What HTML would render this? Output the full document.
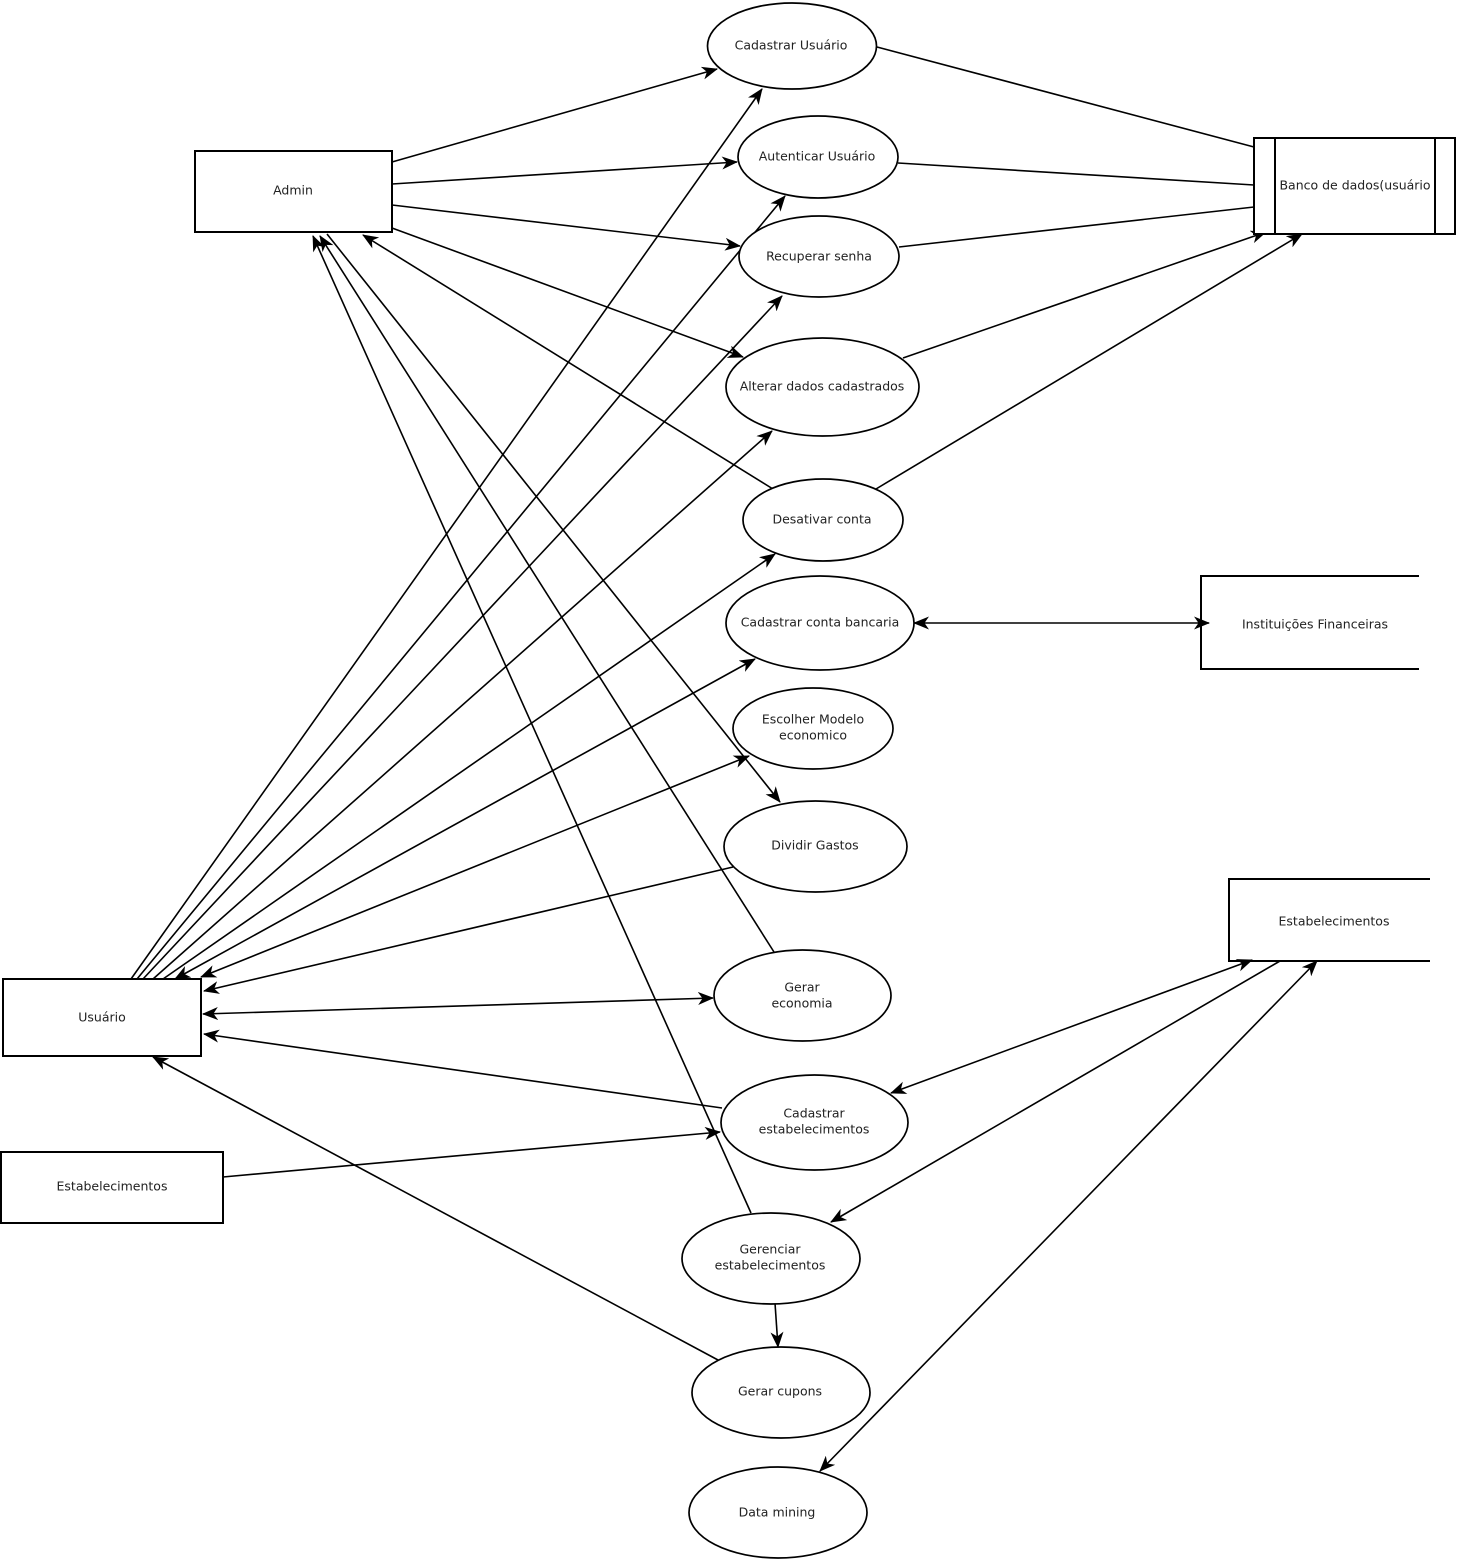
<!DOCTYPE html>
<html>
<head>
<meta charset="utf-8">
<style>
  html,body{margin:0;padding:0;background:#fff;}
  svg{display:block;}
  text{font-family:"DejaVu Sans","Liberation Sans",sans-serif;font-size:12.5px;fill:#222;}
</style>
</head>
<body>
<svg width="1459" height="1561" viewBox="0 0 1459 1561" xmlns="http://www.w3.org/2000/svg">
  <defs>
    <marker id="a" markerUnits="userSpaceOnUse" markerWidth="16" markerHeight="13" refX="15" refY="6.5" orient="auto-start-reverse">
      <path d="M0,0 L16,6.5 L0,13 L4.5,6.5 z" fill="#000"/>
    </marker>
  </defs>
  <rect width="1459" height="1561" fill="#fff"/>

  <g stroke="#000" stroke-width="1.6" fill="none">
    <!-- Admin outgoing -->
    <line x1="392" y1="162" x2="717" y2="69" marker-end="url(#a)"/>
    <line x1="392" y1="184" x2="737" y2="162" marker-end="url(#a)"/>
    <line x1="392" y1="205" x2="740" y2="246" marker-end="url(#a)"/>
    <line x1="392" y1="228" x2="743" y2="357" marker-end="url(#a)"/>
    <line x1="773" y1="489" x2="363" y2="235" marker-end="url(#a)"/>
    <line x1="327" y1="234" x2="780" y2="802" marker-end="url(#a)"/>
    <line x1="774" y1="952" x2="320" y2="236" marker-end="url(#a)"/>
    <line x1="751" y1="1213" x2="313" y2="236" marker-end="url(#a)"/>

    <!-- Usuario to top ellipses -->
    <line x1="131" y1="979" x2="762" y2="89" marker-end="url(#a)"/>
    <line x1="137" y1="979" x2="785" y2="196" marker-end="url(#a)"/>
    <line x1="143" y1="979" x2="782" y2="296" marker-end="url(#a)"/>
    <line x1="153" y1="979" x2="772" y2="431" marker-end="url(#a)"/>
    <line x1="163" y1="979" x2="775" y2="554" marker-end="url(#a)"/>
    <line x1="175" y1="979" x2="755" y2="659" marker-start="url(#a)" marker-end="url(#a)"/>
    <line x1="201" y1="977" x2="749" y2="756" marker-start="url(#a)" marker-end="url(#a)"/>
    <line x1="733" y1="867" x2="204" y2="991" marker-end="url(#a)"/>
    <line x1="203" y1="1014" x2="713" y2="998" marker-start="url(#a)" marker-end="url(#a)"/>
    <line x1="722" y1="1108" x2="204" y2="1034" marker-end="url(#a)"/>
    <line x1="718" y1="1360" x2="153" y2="1057" marker-end="url(#a)"/>
    <line x1="223" y1="1177" x2="720" y2="1132" marker-end="url(#a)"/>
    <line x1="775" y1="1303" x2="778" y2="1347" marker-end="url(#a)"/>

    <!-- Estabelecimentos right -->
    <line x1="1252" y1="960" x2="891" y2="1093" marker-start="url(#a)" marker-end="url(#a)"/>
    <line x1="1280" y1="961" x2="831" y2="1222" marker-end="url(#a)"/>
    <line x1="1317" y1="961" x2="820" y2="1471" marker-start="url(#a)" marker-end="url(#a)"/>

    <!-- Instituicoes -->
    <line x1="914" y1="623" x2="1209" y2="623" marker-start="url(#a)" marker-end="url(#a)"/>

    <!-- Banco de dados -->
    <line x1="877" y1="47" x2="1254" y2="147"/>
    <line x1="898" y1="163" x2="1254" y2="185"/>
    <line x1="899" y1="247" x2="1254" y2="207"/>
    <line x1="903" y1="358" x2="1266" y2="232" marker-end="url(#a)"/>
    <line x1="876" y1="489" x2="1302" y2="234" marker-end="url(#a)"/>
  </g>

  <!-- Boxes -->
  <g stroke="#000" stroke-width="2" fill="#fff">
    <rect x="195" y="151" width="197" height="81"/>
    <rect x="3" y="979" width="198" height="77"/>
    <rect x="1" y="1152" width="222" height="71"/>
    <rect x="1254" y="138" width="201" height="96"/>
    <line x1="1275" y1="138" x2="1275" y2="234"/>
    <line x1="1435" y1="138" x2="1435" y2="234"/>
  </g>
  <g stroke="#000" stroke-width="2" fill="none">
    <polyline points="1419,576 1201,576 1201,669 1419,669"/>
    <polyline points="1430,879 1229,879 1229,961 1430,961"/>
  </g>

  <!-- Ellipses -->
  <g stroke="#000" stroke-width="1.7" fill="#fff">
    <ellipse cx="792" cy="46" rx="84.5" ry="43"/>
    <ellipse cx="818" cy="157" rx="80" ry="41"/>
    <ellipse cx="819" cy="256.5" rx="80" ry="40.5"/>
    <ellipse cx="822.5" cy="387" rx="96.5" ry="49"/>
    <ellipse cx="823" cy="520" rx="80" ry="41"/>
    <ellipse cx="820" cy="623" rx="94" ry="47"/>
    <ellipse cx="813" cy="728.5" rx="80" ry="40.5"/>
    <ellipse cx="815.5" cy="846.5" rx="91.5" ry="45.5"/>
    <ellipse cx="802.5" cy="995.5" rx="88.5" ry="45.5"/>
    <ellipse cx="814.5" cy="1122.5" rx="93.5" ry="47.5"/>
    <ellipse cx="771" cy="1258.5" rx="89" ry="45.5"/>
    <ellipse cx="781" cy="1392.5" rx="89" ry="45.5"/>
    <ellipse cx="778" cy="1512.5" rx="89" ry="45.5"/>
  </g>

  <!-- Labels -->
  <g text-anchor="middle" dominant-baseline="central">
    <text x="293" y="190">Admin</text>
    <text x="102" y="1017">Usuário</text>
    <text x="112" y="1186">Estabelecimentos</text>
    <text x="1355" y="185">Banco de dados(usuário</text>
    <text x="1315" y="624">Instituições Financeiras</text>
    <text x="1334" y="921">Estabelecimentos</text>

    <text x="791" y="45">Cadastrar Usuário</text>
    <text x="817" y="156">Autenticar Usuário</text>
    <text x="819" y="256">Recuperar senha</text>
    <text x="822" y="386">Alterar dados cadastrados</text>
    <text x="822" y="519">Desativar conta</text>
    <text x="820" y="622">Cadastrar conta bancaria</text>
    <text x="813" y="719">Escolher Modelo</text>
    <text x="813" y="735">economico</text>
    <text x="815" y="845">Dividir Gastos</text>
    <text x="802" y="987">Gerar</text>
    <text x="802" y="1003">economia</text>
    <text x="814" y="1113">Cadastrar</text>
    <text x="814" y="1129">estabelecimentos</text>
    <text x="770" y="1249">Gerenciar</text>
    <text x="770" y="1265">estabelecimentos</text>
    <text x="780" y="1391">Gerar cupons</text>
    <text x="777" y="1512">Data mining</text>
  </g>
</svg>
</body>
</html>
